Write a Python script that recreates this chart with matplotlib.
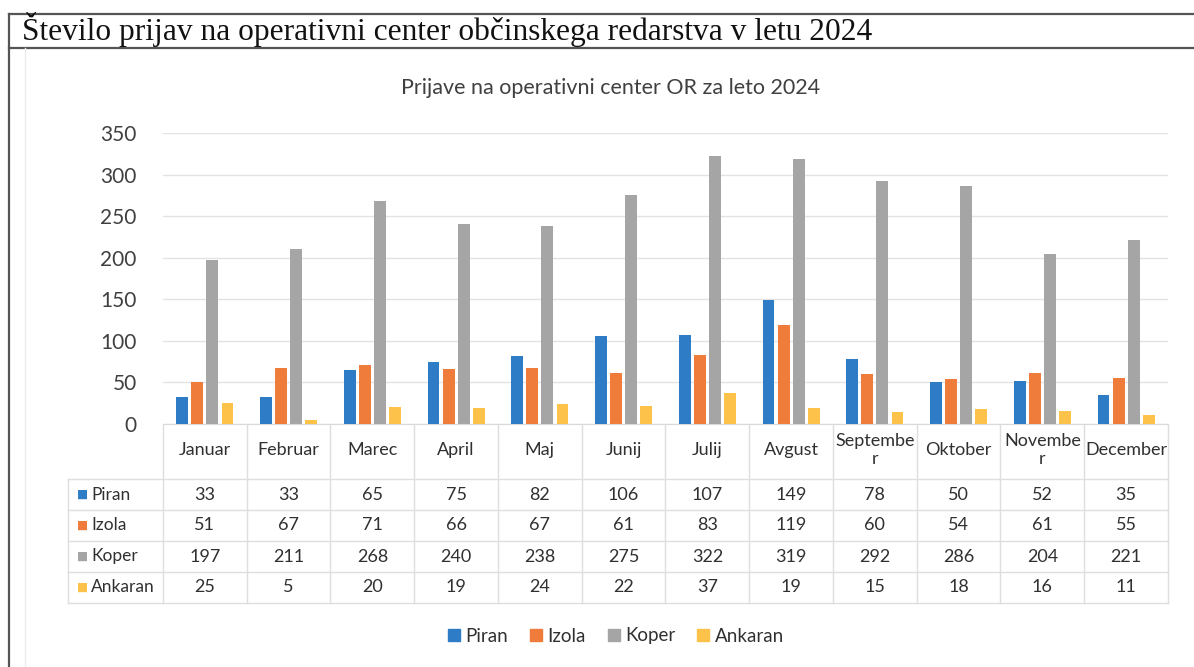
import matplotlib
matplotlib.use("Agg")
import matplotlib.pyplot as plt
from matplotlib.transforms import blended_transform_factory
from matplotlib.lines import Line2D
import numpy as np

months = ["Januar", "Februar", "Marec", "April", "Maj", "Junij", "Julij",
          "Avgust", "Septembe\nr", "Oktober", "Novembe\nr", "December"]
series_names = ["Piran", "Izola", "Koper", "Ankaran"]
piran = [33, 33, 65, 75, 82, 106, 107, 149, 78, 50, 52, 35]
izola = [51, 67, 71, 66, 67, 61, 83, 119, 60, 54, 61, 55]
koper = [197, 211, 268, 240, 238, 275, 322, 319, 292, 286, 204, 221]
ankaran = [25, 5, 20, 19, 24, 22, 37, 19, 15, 18, 16, 11]
yticks = [0, 50, 100, 150, 200, 250, 300, 350]

colors = ["#2E7BC6", "#F07C3C", "#A5A5A5", "#FDC24A"]
values = [piran, izola, koper, ankaran]

W, H = 1194, 667
fig = plt.figure(figsize=(W / 100, H / 100), dpi=100)
fig.patch.set_facecolor("white")

def fy(p):
    return 1 - p / H

def fx(p):
    return p / W

sans = ["Lato", "DejaVu Sans"]

# page frame lines
fig.add_artist(Line2D([fx(9), 1], [fy(14), fy(14)], color="#555555", lw=1.6))
fig.add_artist(Line2D([fx(9), 1], [fy(48), fy(48)], color="#555555", lw=1.6))
fig.add_artist(Line2D([fx(9), fx(9)], [fy(14), 0], color="#555555", lw=1.6))
fig.add_artist(Line2D([fx(25), fx(25)], [fy(48), 0], color="#ececec", lw=1))

fig.text(fx(22), fy(40), "Število prijav na operativni center občinskega redarstva v letu 2024",
         family=["Liberation Serif", "DejaVu Serif"], fontsize=22.6, color="#111111",
         ha="left", va="baseline")

fig.text(fx(611), fy(88), "Prijave na operativni center OR za leto 2024",
         family=sans, fontsize=15.5, color="#404040", ha="center", va="center")

ax = fig.add_axes([fx(163), fy(424), fx(1168) - fx(163), fy(133) - fy(424)])
x = np.arange(len(months))
step = 0.18
width = 0.142
for i, (name, vals) in enumerate(zip(series_names, values)):
    ax.bar(x + (i - 1.5) * step, vals, width=width, color=colors[i], label=name, zorder=3)

ax.set_xlim(-0.5, len(months) - 0.5)
ax.set_ylim(0, 350)
ax.set_yticks(yticks)
ax.set_yticklabels([str(t) for t in yticks], family=sans, fontsize=15, color="#404040")
ax.tick_params(axis="y", length=0, pad=19)
ax.tick_params(axis="x", length=0, labelbottom=False)
ax.grid(axis="y", color="#e3e3e3", lw=1, zorder=0)
for s in ["top", "right", "left"]:
    ax.spines[s].set_visible(False)
ax.spines["bottom"].set_color("#d9d9d9")

# data table
tr = blended_transform_factory(ax.transData, fig.transFigure)
line_c = "#dedede"
row_lines = [479, 510, 541, 572, 603]
row_centers = [494.5, 525.5, 556.5, 587.5]
for k in range(len(months) + 1):
    xb = k - 0.5
    ax.add_artist(Line2D([xb, xb], [fy(425), fy(603)], transform=tr, color=line_c, lw=1, clip_on=False))
for yl in row_lines:
    fig.add_artist(Line2D([fx(68), fx(1168)], [fy(yl), fy(yl)], color=line_c, lw=1))
fig.add_artist(Line2D([fx(68), fx(68)], [fy(479), fy(603)], color=line_c, lw=1))

for k, m in enumerate(months):
    ax.text(k, fy(450), m, transform=tr, ha="center", va="center", family=sans,
            fontsize=13, color="#303030", linespacing=1.15, clip_on=False)
for i, (name, vals) in enumerate(zip(series_names, values)):
    yc = row_centers[i]
    fig.text(fx(76.5), fy(yc), "■", family="DejaVu Sans", fontsize=8.5, color=colors[i],
             ha="left", va="center")
    fig.text(fx(91), fy(yc), name, family=sans, fontsize=12.5, color="#303030",
             ha="left", va="center")
    for k, v in enumerate(vals):
        ax.text(k, fy(yc), str(v), transform=tr, ha="center", va="center",
                family=sans, fontsize=13, color="#303030", clip_on=False)

handles = [Line2D([], [], marker="s", linestyle="none", markersize=8,
                  markerfacecolor=c, markeredgecolor=c) for c in colors]
fig.legend(handles, series_names, loc="center", bbox_to_anchor=(fx(615), fy(636)),
           ncol=4, frameon=False, prop={"family": sans, "size": 13.5},
           handletextpad=0.2, columnspacing=1.1, handlelength=0.8, labelcolor="#303030")

fig.savefig("out.png", dpi=100, facecolor="white")
